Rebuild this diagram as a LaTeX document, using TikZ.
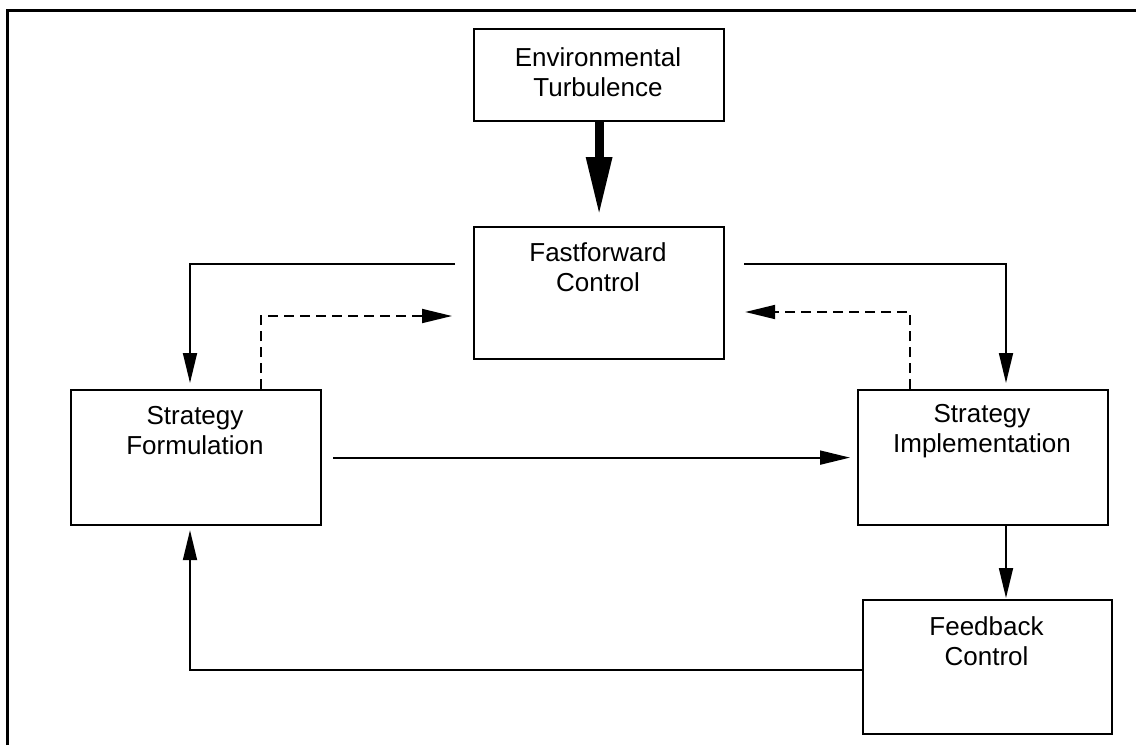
\documentclass[tikz,border=0pt]{standalone}
\usepackage{fontspec}
\setmainfont{Liberation Sans}
\usetikzlibrary{arrows.meta,calc}
\begin{document}
\begin{tikzpicture}[x=1pt,y=-1pt,
  box/.style={draw,line width=2.2pt,inner sep=0pt,anchor=north west},
  txt/.style={align=center,inner sep=0pt,font=\fontsize{26}{30}\selectfont},
  arr/.style={line width=1.8pt,-{Triangle[length=30pt,width=14pt]}},
  darr/.style={arr,dash pattern=on 10pt off 6pt},
  bigarr/.style={line width=9pt,-{Triangle[length=59pt,width=24pt]}}]
\useasboundingbox (0,0) rectangle (1136,745);
\draw[line width=3pt] (7,745) -- (7,10) -- (1136,10);
% boxes
\node[box,minimum width=250pt,minimum height=92pt] (env) at (473,28) {};
\node[box,minimum width=250pt,minimum height=132pt] (ff) at (473,226) {};
\node[box,minimum width=250pt,minimum height=135pt] (sf) at (70,389) {};
\node[box,minimum width=250pt,minimum height=135pt] (si) at (857,389) {};
\node[box,minimum width=249pt,minimum height=134pt] (fb) at (862,599) {};
% texts
\node[txt] (envt) at (598,72) {Environmental\\Turbulence};
\node[txt] (fft) at (598,267) {Fastforward\\Control};
\node[txt] (sft) at (195,431) {Strategy\\Formulation};
\node[txt] (sit) at (982,431) {Strategy\\Implementation};
\node[txt] (fbt) at (986.5,641) {Feedback\\Control};
% connectors
\draw[bigarr] (env.south) -- ($(ff.north)+(0,-10)$);
\draw[arr] ($(ff.north west)+(-18,38)$) -| ($(sf.north west)+(120,-6)$);
\draw[darr] ($(sf.north west)+(191,0)$) |- ($(ff.north west)+(-21,90)$);
\draw[arr] ($(ff.north east)+(19,38)$) -| ($(si.north west)+(149,-6)$);
\draw[darr] ($(si.north west)+(53,0)$) |- ($(ff.north east)+(20,86)$);
\draw[arr] ($(sf.east)+(11,0)$) -- ($(si.west)+(-7,0)$);
\draw[arr] ($(si.south west)+(149,0)$) -- ($(fb.north west)+(144,-1)$);
\draw[arr] ($(fb.north west)+(0,71)$) -| ($(sf.south west)+(120,4)$);
\end{tikzpicture}
\end{document}
